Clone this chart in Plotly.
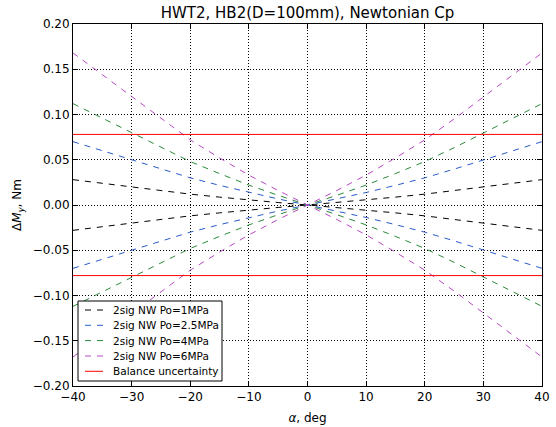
import plotly.graph_objects as go

alpha = [-40, -35, -30, -25, -20, -15, -10, -5, 0, 5, 10, 15, 20, 25, 30, 35, 40]

dm_1mpa = [0.028, 0.024, 0.0198, 0.0158, 0.012, 0.0087, 0.0055, 0.0027, 0.0,
           0.0027, 0.0055, 0.0087, 0.012, 0.0158, 0.0198, 0.024, 0.028]
dm_2p5mpa = [0.070, 0.060, 0.0496, 0.0396, 0.030, 0.0217, 0.0138, 0.0067, 0.0,
             0.0067, 0.0138, 0.0217, 0.030, 0.0396, 0.0496, 0.060, 0.070]
dm_4mpa = [0.112, 0.096, 0.0793, 0.0633, 0.048, 0.0347, 0.022, 0.0107, 0.0,
           0.0107, 0.022, 0.0347, 0.048, 0.0633, 0.0793, 0.096, 0.112]
dm_6mpa = [0.168, 0.144, 0.119, 0.095, 0.072, 0.052, 0.033, 0.016, 0.0,
           0.016, 0.033, 0.052, 0.072, 0.095, 0.119, 0.144, 0.168]
balance_unc = 0.078

series_names = ["2sig NW Po=1MPa", "2sig NW Po=2.5MPa", "2sig NW Po=4MPa", "2sig NW Po=6MPa"]
series_vals = [dm_1mpa, dm_2p5mpa, dm_4mpa, dm_6mpa]
series_cols = ["#000000", "#2a5cc8", "#2a8a38", "#b848c4"]
balance_name = "Balance uncertainty"
balance_col = "#ff0000"

x_ticks = [-40, -30, -20, -10, 0, 10, 20, 30, 40]
y_ticks = [-0.20, -0.15, -0.10, -0.05, 0.0, 0.05, 0.10, 0.15, 0.20]

W, H = 556, 427
ML, MR, MT, MB = 73, 14, 24, 41
PW, PH = W - ML - MR, H - MT - MB
DASH = "6px,6px"

fig = go.Figure()
for name, vals, col in zip(series_names, series_vals, series_cols):
    xs = alpha + [None] + alpha
    ys = vals + [None] + [-v for v in vals]
    fig.add_trace(go.Scatter(x=xs, y=ys, mode="lines", name=name, showlegend=False,
                             line=dict(color=col, width=1, dash=DASH)))

fig.add_trace(go.Scatter(x=[alpha[0], alpha[-1], None, alpha[0], alpha[-1]],
                         y=[balance_unc, balance_unc, None, -balance_unc, -balance_unc],
                         mode="lines", name=balance_name, showlegend=False,
                         line=dict(color=balance_col, width=1)))

axis_common = dict(showline=True, linecolor="black", linewidth=1, mirror="ticks",
                   ticks="inside", ticklen=5, tickcolor="black",
                   showgrid=True, gridcolor="black", griddash="1px,2px", gridwidth=1,
                   zeroline=False, automargin=False,
                   tickfont=dict(size=12, color="black"))

fig.update_xaxes(range=[-40, 40], tickvals=x_ticks,
                 title=dict(text="<i>α</i>, deg", font=dict(size=12, color="black"), standoff=10),
                 **axis_common)
fig.update_yaxes(range=[-0.20, 0.20], tickvals=y_ticks, tickformat=".2f",
                 title=dict(text="Δ<i>M</i><sub><i>y</i></sub>, Nm", font=dict(size=12, color="black"), standoff=8),
                 **axis_common)


def px(xp):
    return (xp - ML) / PW


def py(yp):
    return (MT + PH - yp) / PH


shapes = []
annotations = []
# legend box
shapes.append(dict(type="rect", xref="paper", yref="paper",
                   x0=px(78), x1=px(222), y0=py(381), y1=py(301),
                   line=dict(color="black", width=1), fillcolor="white", layer="above"))
entries = list(zip(series_names, series_cols, [DASH] * 4)) + [(balance_name, balance_col, "solid")]
row_y = [310, 325.3, 340.6, 356, 371.3]
for (name, col, dash), yy in zip(entries, row_y):
    shapes.append(dict(type="line", xref="paper", yref="paper",
                       x0=px(85), x1=px(103), y0=py(yy), y1=py(yy),
                       line=dict(color=col, width=1, dash=dash), layer="above"))
    annotations.append(dict(text=name, xref="paper", yref="paper", x=px(111), y=py(yy),
                            xanchor="left", yanchor="middle", showarrow=False,
                            font=dict(size=10.5, color="black")))

fig.update_layout(
    width=W, height=H,
    margin=dict(l=ML, r=MR, t=MT, b=MB),
    paper_bgcolor="white", plot_bgcolor="white",
    font=dict(family="DejaVu Sans", color="black"),
    title=dict(text="HWT2, HB2(D=100mm), Newtonian Cp", x=0.5, xanchor="center",
               xref="paper", y=1 - 13 / H, yref="container", yanchor="middle",
               font=dict(size=15, color="black")),
    shapes=shapes, annotations=annotations,
    showlegend=False,
)

fig.write_html("out.html")
